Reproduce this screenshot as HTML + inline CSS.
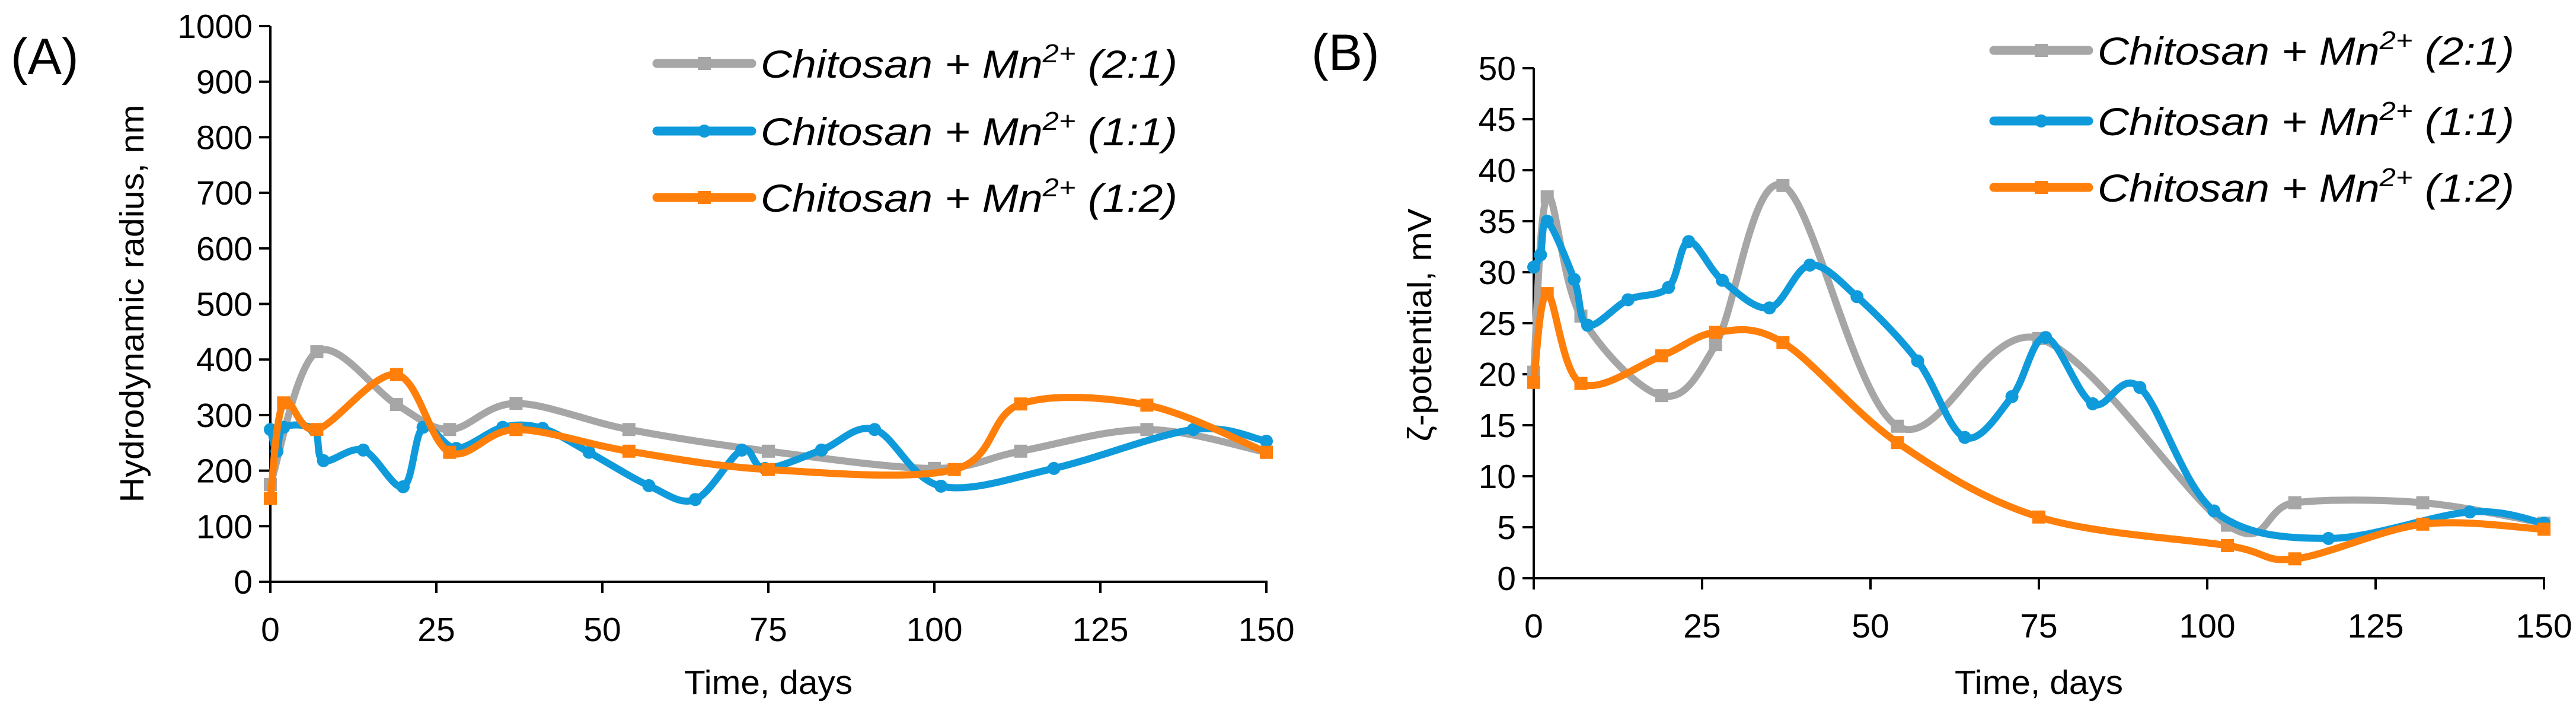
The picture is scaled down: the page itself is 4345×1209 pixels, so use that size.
<!DOCTYPE html>
<html><head><meta charset="utf-8">
<style>
html,body{margin:0;padding:0;background:#fff;}
svg{display:block;}
text{font-family:"Liberation Sans",sans-serif;fill:#000;}
</style></head>
<body>
<svg id="chart" width="4345" height="1209" viewBox="0 0 4345 1209" xmlns="http://www.w3.org/2000/svg">
<rect width="4345" height="1209" fill="#fff"/>
<g id="panelA"></g>
<g id="panelB"></g>
</svg>
<script>
// ---- Panel A data (hydrodynamic radius, nm) ----
const aGrayX = [0, 7, 19, 27, 37, 54, 75, 100, 113, 132, 150];
const aGrayY = [175, 414, 319, 274, 321, 274, 235, 204, 235, 274, 233];
const aBlueX = [0, 1, 2, 6.6, 8, 14, 20, 23, 28, 35, 41, 48, 57, 64, 71, 74.5, 83, 91, 101, 118, 139, 150];
const aBlueY = [274, 235, 278, 274, 218, 237, 171, 278, 240, 278, 276, 233, 173, 148, 237, 204, 237, 274, 172, 204, 274, 253];
const aOrangeX = [0, 2, 7, 19, 27, 37, 54, 75, 103, 113, 132, 150];
const aOrangeY = [150, 322, 274, 373, 233, 274, 235, 202, 202, 320, 318, 233];
const aYTicks = [0, 100, 200, 300, 400, 500, 600, 700, 800, 900, 1000];
// ---- Panel B data (zeta potential, mV) ----
const bGrayX = [0, 2, 7, 19, 27, 37, 54, 75, 103, 113, 132, 150];
const bGrayY = [20.2, 37.4, 25.7, 17.9, 22.9, 38.5, 14.9, 23.5, 5.2, 7.4, 7.4, 5.4];
const bBlueX = [0, 1, 2, 6, 8, 14, 20, 23, 28, 35, 41, 48, 57, 64, 71, 76, 83, 90, 101, 118, 139, 150];
const bBlueY = [30.5, 31.7, 35, 29.3, 24.8, 27.3, 28.5, 33, 29.2, 26.5, 30.7, 27.6, 21.3, 13.8, 17.8, 23.6, 17.1, 18.7, 6.6, 3.9, 6.5, 5.4];
const bOrangeX = [0, 2, 7, 19, 27, 37, 54, 75, 103, 113, 132, 150];
const bOrangeY = [19.2, 27.9, 19.1, 21.8, 24.1, 23.1, 13.3, 6.0, 3.2, 1.9, 5.3, 4.8];
const bYTicks = [0, 5, 10, 15, 20, 25, 30, 35, 40, 45, 50];
const xTicks = [0, 25, 50, 75, 100, 125, 150];
const legendLabels = ["(2:1)", "(1:1)", "(1:2)"];

const NS = "http://www.w3.org/2000/svg";
const GRAY = "#a6a6a6", BLUE = "#0f9bdb", ORANGE = "#ff7f0a";

function mk(tag, attrs, parent) {
  const e = document.createElementNS(NS, tag);
  for (const k in attrs) e.setAttribute(k, attrs[k]);
  parent.appendChild(e);
  return e;
}
function spline(pts) {
  let d = "M" + pts[0][0] + "," + pts[0][1];
  for (let i = 0; i < pts.length - 1; i++) {
    const p0 = pts[Math.max(0, i - 1)], p1 = pts[i], p2 = pts[i + 1], p3 = pts[Math.min(pts.length - 1, i + 2)];
    const c1x = p1[0] + (p2[0] - p0[0]) / 6, c1y = p1[1] + (p2[1] - p0[1]) / 6;
    const c2x = p2[0] - (p3[0] - p1[0]) / 6, c2y = p2[1] - (p3[1] - p1[1]) / 6;
    d += " C" + c1x + "," + c1y + " " + c2x + "," + c2y + " " + p2[0] + "," + p2[1];
  }
  return d;
}

function panel(g, cfg) {
  const sx = v => cfg.x0 + (v / 150) * (cfg.x1 - cfg.x0);
  const sy = v => cfg.y0 - (v / cfg.ymax) * (cfg.y0 - cfg.y1);
  const lbl = mk("text", {x: cfg.labX, y: cfg.labY, "font-size": 86}, g);
  lbl.textContent = cfg.label;
  
  
  // axes
  const ax = mk("g", {}, g);
  
  
  mk("line", {x1: cfg.x0, y1: cfg.y1, x2: cfg.x0, y2: cfg.y0 + 19, stroke: "#000", "stroke-width": 4}, ax);
  mk("line", {x1: cfg.x0 - 19, y1: cfg.y0, x2: cfg.x1 + 2, y2: cfg.y0, stroke: "#000", "stroke-width": 4}, ax);
  cfg.yticks.forEach(t => {
    mk("line", {x1: cfg.x0 - 19, y1: sy(t), x2: cfg.x0, y2: sy(t), stroke: "#000", "stroke-width": 4}, ax);
    const tx = mk("text", {x: cfg.x0 - 30, y: sy(t) + 20, "font-size": 57, "text-anchor": "end"}, ax);
    tx.textContent = t;
    
    
  });
  xTicks.forEach(t => {
    mk("line", {x1: sx(t), y1: cfg.y0, x2: sx(t), y2: cfg.y0 + 19, stroke: "#000", "stroke-width": 4}, ax);
    const tx = mk("text", {x: sx(t), y: cfg.y0 + 100, "font-size": 57, "text-anchor": "middle"}, ax);
    tx.textContent = t;
    
    
  });
  const xt = mk("text", {x: (cfg.x0 + cfg.x1) / 2, y: 1170, "font-size": 57, "text-anchor": "middle", textLength: 284, lengthAdjust: "spacingAndGlyphs"}, g);
  xt.textContent = "Time, days";
  
  
  const yt = mk("text", {x: 0, y: 0, "font-size": 57, "text-anchor": "middle", textLength: cfg.ytLen, lengthAdjust: "spacingAndGlyphs", transform: "translate(" + cfg.ytX + "," + cfg.ytY + ") rotate(-90)"}, g);
  yt.textContent = cfg.ytitle;
  
  
  // series
  cfg.series.forEach((s, si) => {
    const sg = mk("g", {}, g);
    
    
    const pts = s.x.map((v, i) => [sx(v), sy(s.y[i])]);
    const p = mk("path", {d: spline(pts), fill: "none", stroke: s.color, "stroke-width": 12, "stroke-linejoin": "round", "stroke-linecap": "round"}, sg);
    
    
    pts.forEach(pt => {
      let m;
      if (s.marker === "circle") m = mk("circle", {cx: pt[0], cy: pt[1], r: 11, fill: s.color}, sg);
      else m = mk("rect", {x: pt[0] - 11, y: pt[1] - 11, width: 22, height: 22, fill: s.color}, sg);
      
      
    });
    // legend
    const lg = mk("g", {}, g);
    
    
    const ly = cfg.legY[si];
    mk("line", {x1: cfg.legX, y1: ly, x2: cfg.legX + 160, y2: ly, stroke: s.color, "stroke-width": 15, "stroke-linecap": "round"}, lg);
    if (s.marker === "circle") mk("circle", {cx: cfg.legX + 80, cy: ly, r: 11, fill: s.color}, lg);
    else mk("rect", {x: cfg.legX + 69, y: ly - 11, width: 22, height: 22, fill: s.color}, lg);
    const t = mk("text", {x: cfg.legX + 175, y: ly + 24, "font-size": 66, "font-style": "italic", textLength: 703, lengthAdjust: "spacingAndGlyphs"}, lg);
    t.innerHTML = 'Chitosan + Mn<tspan dy="-26" font-size="44">2+</tspan><tspan dy="26"> ' + legendLabels[si] + '</tspan>';
  });
}

panel(document.getElementById("panelA"), {
  label: "(A)", labX: 18, labY: 125,
  x0: 456, x1: 2136, y0: 981, y1: 44, ymax: 1000, yticks: aYTicks,
  ytitle: "Hydrodynamic radius, nm", ytX: 242, ytY: 512, ytLen: 671,
  legX: 1108, legY: [107, 221, 333],
  series: [
    {name: "2-1", x: aGrayX, y: aGrayY, color: GRAY, marker: "square"},
    {name: "1-1", x: aBlueX, y: aBlueY, color: BLUE, marker: "circle"},
    {name: "1-2", x: aOrangeX, y: aOrangeY, color: ORANGE, marker: "square"}
  ]
});
panel(document.getElementById("panelB"), {
  label: "(B)", labX: 2212, labY: 118,
  x0: 2587, x1: 4291, y0: 975, y1: 115, ymax: 50, yticks: bYTicks,
  ytitle: "ζ-potential, mV", ytX: 2414, ytY: 548, ytLen: 393,
  legX: 3363, legY: [85, 204, 316],
  series: [
    {name: "2-1", x: bGrayX, y: bGrayY, color: GRAY, marker: "square"},
    {name: "1-1", x: bBlueX, y: bBlueY, color: BLUE, marker: "circle"},
    {name: "1-2", x: bOrangeX, y: bOrangeY, color: ORANGE, marker: "square"}
  ]
});
</script>
</body></html>
